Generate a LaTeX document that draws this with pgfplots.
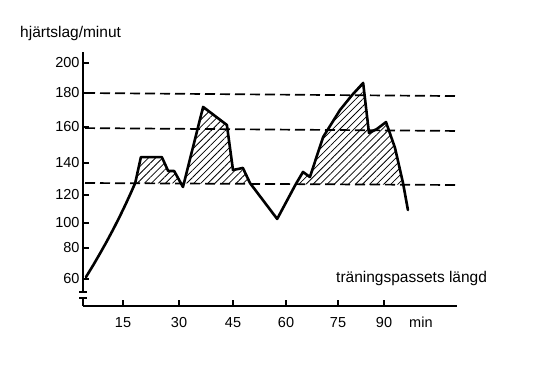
\documentclass[border=0pt]{standalone}
\usepackage{fontspec}
\setmainfont{Liberation Sans}
\usepackage{pgfplots}
\pgfplotsset{compat=1.18}
\usetikzlibrary{patterns.meta}
% piecewise maps of the hand-drawn (uneven) scales
\def\Tx#1{(#1<15 ? 83+(#1)*40/15 : (#1<30 ? 123+(#1-15)*56/15 : (#1<45 ? 179+(#1-30)*54/15 : (#1<60 ? 233+(#1-45)*53/15 : (#1<75 ? 286+(#1-60)*52/15 : 338+(#1-75)*46/15)))))}
\def\Ty#1{(#1<80 ? 91+(#1-60)*31/20 : (#1<100 ? 122+(#1-80)*25/20 : (#1<120 ? 147+(#1-100)*28/20 : (#1<140 ? 175+(#1-120)*32/20 : (#1<160 ? 207+(#1-140)*36/20 : (#1<180 ? 243+(#1-160)*34/20 : 277+(#1-180)*30/20))))))}
\begin{document}
\begin{tikzpicture}
\useasboundingbox (0pt,0pt) rectangle (537pt,370pt);
\begin{axis}[
  at={(83pt,64pt)}, anchor=south west,
  x=1pt, y=1pt,
  x coord trafo/.code={\pgfmathparse{\Tx{#1}}},
  y coord trafo/.code={\pgfmathparse{\Ty{#1}}},
  xmin=0, xmax=113.8, ymin=42.58, ymax=207.33,
  enlargelimits=false, clip=false,
  axis x line*=bottom, axis y line*=left,
  axis line style={line width=1.6pt},
  tick align=inside, major tick length=6pt,
  tick style={line width=1.4pt, black},
  xtick={15,30,45,60,75,90}, xticklabels={15,30,45,60,75,90},
  ytick={60,80,100,120,140,160,180,200},
  yticklabels={60,80,100,120,140,160,180,200},
  ticklabel style={font=\fontsize{14.5}{14.5}\selectfont},
  xticklabel style={yshift=-8pt},
  /pgf/number format/assume math mode=true,
]
% hatched zones above the lower dashed line
\addplot[draw=none, pattern={Lines[angle=45,distance=5pt,line width=0.8pt]}] coordinates {
 (18.27,127.3) (19.8,143.3) (25.4,143.3) (27.1,135) (28.7,135) (30.5,127.2)} -- cycle;
\addplot[draw=none, pattern={Lines[angle=45,distance=5pt,line width=0.8pt]}] coordinates {
 (31.4,127.2) (36.7,171.8) (43.3,161.2) (45,135.6) (47.8,136.9) (49.8,127.0)} -- cycle;
\addplot[draw=none, pattern={Lines[angle=45,distance=5pt,line width=0.8pt]}] coordinates {
 (62.8,126.7) (64.9,134.4) (66.9,131.25) (70.7,154.4) (75.65,170) (79.6,178.8) (83.2,186.7)
 (85.1,156.7) (87.7,158.9) (90.65,162.9) (93.6,148.3) (96.2,126.5)} -- cycle;
% dashed reference lines
\addplot[line width=1.7pt, dash pattern=on 10pt off 5pt] coordinates {(0.75,180) (113.8,178.2)};
\addplot[line width=1.7pt, dash pattern=on 10pt off 5pt] coordinates {(0.75,159.4) (113.8,157.8)};
\addplot[line width=1.7pt, dash pattern=on 10pt off 5pt] coordinates {(0.75,127.5) (113.8,126.25)};
% heart rate
\addplot[line width=2.6pt, line join=round, line cap=round] coordinates {
 (1.125,61.3) (3.86,69.0) (6.49,76.8) (9.0,85.6) (11.4,95.2) (13.69,104.3) (15.62,112.9)
 (17.09,121.25) (18.27,127.5)
 (19.8,143.3) (25.4,143.3) (27.1,135) (28.7,135) (31.1,125) (36.7,171.8) (43.3,161.2)
 (45,135.6) (47.8,136.9) (49.8,127.5) (57.5,102.9) (62.8,126.7) (64.9,134.4) (66.9,131.25)
 (70.7,154.4) (75.65,170) (79.6,178.8) (83.2,186.7) (85.1,156.7) (87.7,158.9) (90.65,162.9)
 (93.6,148.3) (96.2,127.5) (97.8,109.3)};
\end{axis}
% break in the y axis
\fill[white] (79pt,72.8pt) rectangle (87pt,77.4pt);
\draw[line width=1.4pt] (79pt,78pt) -- (87pt,78pt);
\draw[line width=1.4pt] (79pt,72pt) -- (87pt,72pt);
\node[anchor=base west, inner sep=0pt] at (20pt,332pt) {\fontsize{15.5}{18}\selectfont hjärtslag/minut};
\node[anchor=base west, inner sep=0pt] at (336pt,88pt) {\fontsize{15.5}{18}\selectfont träningspassets längd};
\node[anchor=base west, inner sep=0pt] at (409pt,43pt) {\fontsize{14.5}{14.5}\selectfont min};
\end{tikzpicture}
\end{document}
